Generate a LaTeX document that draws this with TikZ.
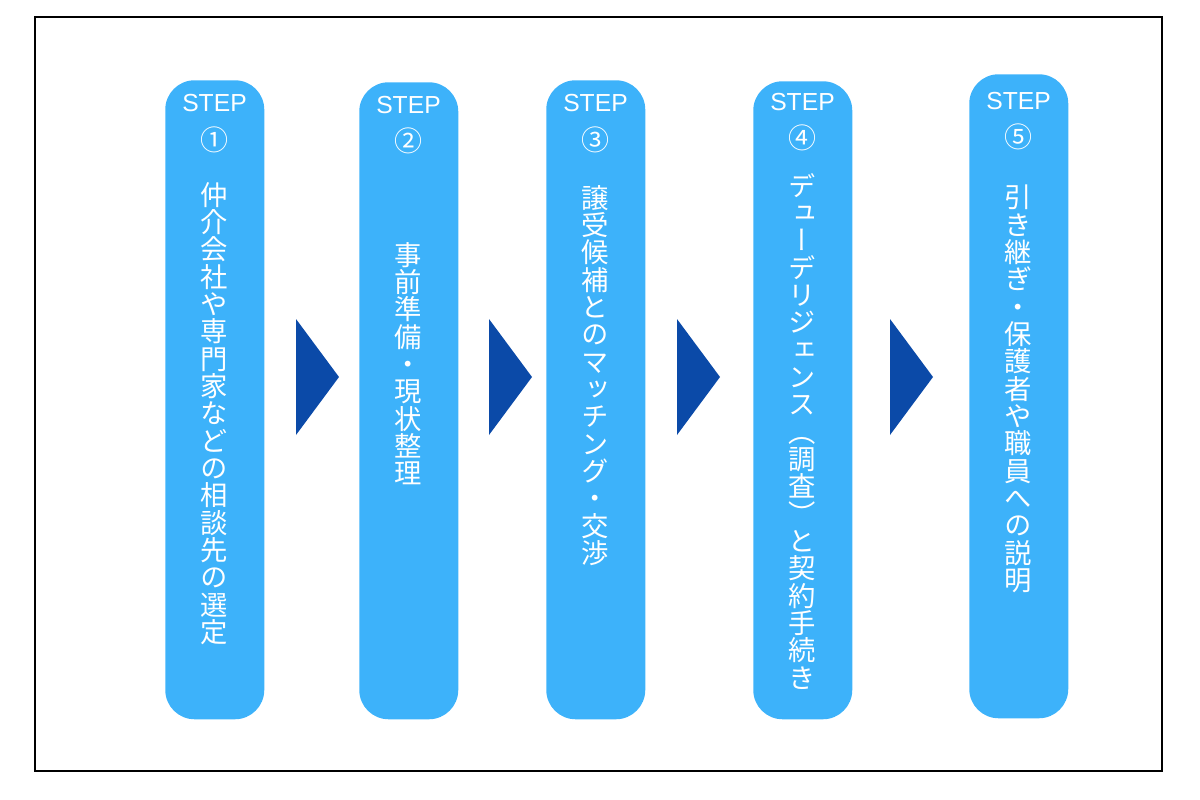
\documentclass[tikz,border=0pt]{standalone}
\usepackage{fontspec}
\setmainfont{Liberation Sans}
\newfontfamily\jpv[RawFeature={+vert}]{Noto Sans CJK JP}
\newfontfamily\jpf{Noto Sans CJK JP}
\definecolor{boxblue}{RGB}{61,178,250}
\definecolor{arrowblue}{RGB}{11,74,168}
\tikzset{
  stepbox/.style={fill=boxblue, draw=none, rounded corners=22pt, anchor=north west, minimum width=74.25pt, inner sep=0pt},
  steplabel/.style={text=white, font=\fontsize{18.5}{20}\selectfont, inner sep=0pt},
  stepnum/.style={text=white, font=\jpf\fontsize{21}{22}\selectfont, inner sep=0pt},
  vtext/.style={text=white, font=\jpv\fontsize{20.5}{20.5}\selectfont, align=center, inner sep=0pt, anchor=north},
  chevron/.style={fill=arrowblue, draw=none},
  frame/.style={draw=black, line width=0.8pt}
}
\begin{document}
\begin{tikzpicture}[x=0.75pt,y=-0.75pt]
\useasboundingbox (0,0) rectangle (1200,800);
\draw[frame] (35,17) rectangle (1162,771);
% boxes
\node[stepbox, minimum height=479.25pt] (b1) at (165,80) {};
\node[stepbox, minimum height=477.75pt] (b2) at (359,82) {};
\node[stepbox, minimum height=479.25pt] (b3) at (546,80) {};
\node[stepbox, minimum height=478.5pt] (b4) at (753,81) {};
\node[stepbox, minimum height=483pt] (b5) at (969,74) {};
% STEP labels
\node[steplabel] (s1) at (214.5,103.5) {STEP};
\node[steplabel] (s2) at (408.5,105) {STEP};
\node[steplabel] (s3) at (595.5,103.5) {STEP};
\node[steplabel] (s4) at (802.5,102) {STEP};
\node[steplabel] (s5) at (1018.5,101.5) {STEP};
% numbers
\node[stepnum] (n1) at (214.5,140) {①};
\node[stepnum] (n2) at (408.5,141) {②};
\node[stepnum] (n3) at (595.5,140) {③};
\node[stepnum] (n4) at (802.5,137.5) {④};
\node[stepnum] (n5) at (1018.5,137) {⑤};
% vertical texts
\node[vtext] (t1) at (214.5,182) {仲\\介\\会\\社\\や\\専\\門\\家\\な\\ど\\の\\相\\談\\先\\の\\選\\定};
\node[vtext] (t2) at (408.5,242) {事\\前\\準\\備\\・\\現\\状\\整\\理};
\node[vtext] (t3) at (595.5,185) {譲\\受\\候\\補\\と\\の\\マ\\ッ\\チ\\ン\\グ\\・\\交\\渉};
\node[vtext] (t4) at (802.5,173) {デ\\ュ\\ー\\デ\\リ\\ジ\\ェ\\ン\\ス\\（\\調\\査\\）\\と\\契\\約\\手\\続\\き};
\node[vtext] (t5) at (1018.5,185) {引\\き\\継\\ぎ\\・\\保\\護\\者\\や\\職\\員\\へ\\の\\説\\明};
% chevrons
\fill[chevron] (296,319) -- (339,377) -- (296,435) -- cycle;
\fill[chevron] (489,319) -- (532,377) -- (489,435) -- cycle;
\fill[chevron] (677,319) -- (720,377) -- (677,435) -- cycle;
\fill[chevron] (890,319) -- (933,377) -- (890,435) -- cycle;
\end{tikzpicture}
\end{document}
